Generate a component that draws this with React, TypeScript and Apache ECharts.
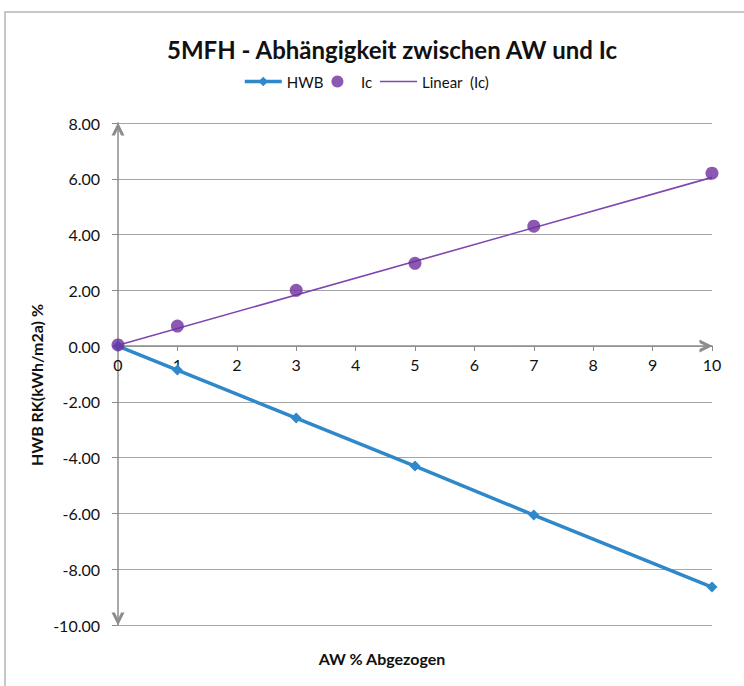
import React, { useEffect, useRef } from "react";
import * as echarts from "echarts";

const xValues = [0, 1, 3, 5, 7, 10];
const hwbValues = [0, -0.86, -2.58, -4.3, -6.06, -8.64];
const icValues = [0.04, 0.72, 2.0, 2.97, 4.3, 6.2];
const trendX = [0, 10];
const trendValues = [0.03, 6.05];

const FONT = "Lato, 'Open Sans', sans-serif";
const chevron = "path://M0,13 L6.5,0 L13,13 L9.6,13 L6.5,6.6 L3.4,13 Z";
const thinLine = "path://M0,0 L36,0 L36,1.6 L0,1.6 Z";

export default function App() {
  const ref = useRef<HTMLDivElement>(null);
  useEffect(() => {
    document.body.style.margin = "0";
    const chart = echarts.init(ref.current!, null, { renderer: "svg" });
    chart.setOption({
      animation: false,
      backgroundColor: "#fff",
      textStyle: { fontFamily: FONT },
      title: {
        text: "5MFH - Abhängigkeit zwischen AW und Ic",
        left: 387,
        textAlign: "center",
        top: 32,
        textStyle: { fontFamily: FONT, fontSize: 24, fontWeight: "bold", color: "#111" },
      },
      legend: {
        top: 69,
        left: 238,
        itemGap: 8,
        itemWidth: 37,
        itemHeight: 12,
        textStyle: { fontFamily: FONT, fontSize: 15, color: "#111" },
        data: [
          { name: "HWB", lineStyle: { width: 3.5 } },
          { name: "Ic" },
          { name: "Linear  (Ic)", icon: thinLine },
        ],
      },
      graphic: [
        {
          type: "rect",
          shape: { x: 5, y: 12, width: 800, height: 720 },
          style: { fill: "none", stroke: "#b5b5b5", lineWidth: 1.5 },
          silent: true,
        },
        {
          type: "text",
          x: 382,
          y: 658,
          style: {
            text: "AW % Abgezogen",
            font: `bold 16px ${FONT}`,
            fill: "#111",
            align: "center",
            verticalAlign: "middle",
          },
        },
        {
          type: "text",
          x: 36,
          y: 385,
          rotation: Math.PI / 2,
          style: {
            text: "HWB RK(kWh/m2a) %",
            font: `bold 16px ${FONT}`,
            fill: "#111",
            align: "center",
            verticalAlign: "middle",
          },
        },
      ],
      grid: { left: 118, right: 32, top: 123, bottom: 61 },
      xAxis: {
        type: "value",
        min: 0,
        max: 10,
        interval: 1,
        offset: -279,
        axisLine: {
          onZero: false,
          lineStyle: { color: "#8c8c8c", width: 1.5 },
          symbol: ["none", chevron],
          symbolSize: [13, 13],
          symbolOffset: [0, -6],
        },
        axisTick: { show: true, length: 5, lineStyle: { color: "#8c8c8c" } },
        axisLabel: { fontFamily: FONT, fontSize: 16, color: "#111", margin: 10 },
        splitLine: { show: false },
      },
      yAxis: {
        type: "value",
        min: -10,
        max: 8,
        interval: 2,
        axisLine: {
          show: true,
          onZero: false,
          lineStyle: { color: "#8c8c8c", width: 1.5 },
          symbol: [chevron, chevron],
          symbolSize: [13, 13],
          symbolOffset: [6, -6],
        },
        axisTick: { show: true, length: 6, lineStyle: { color: "#8c8c8c" } },
        axisLabel: {
          fontFamily: FONT,
          fontSize: 16,
          color: "#111",
          margin: 18,
          formatter: (v: number) => v.toFixed(2),
        },
        splitLine: { show: true, lineStyle: { color: "#a6a6a6", width: 1.2 } },
      },
      series: [
        {
          name: "HWB",
          type: "line",
          data: xValues.map((x, i) => [x, hwbValues[i]]),
          symbol: "diamond",
          symbolSize: 11,
          showAllSymbol: true,
          lineStyle: { color: "#2f88c9", width: 3.5 },
          itemStyle: { color: "#2f88c9" },
          z: 3,
        },
        {
          name: "Linear  (Ic)",
          type: "line",
          data: trendX.map((x, i) => [x, trendValues[i]]),
          symbol: "none",
          lineStyle: { color: "#7d46b0", width: 1.6 },
          itemStyle: { color: "#7d46b0" },
          z: 2,
        },
        {
          name: "Ic",
          type: "scatter",
          data: xValues.map((x, i) => [x, icValues[i]]),
          symbol: "circle",
          symbolSize: 13,
          itemStyle: { color: "#6f2f9f" },
          z: 4,
        },
      ],
    });
    return () => chart.dispose();
  }, []);
  return <div ref={ref} style={{ width: 744, height: 686 }} />;
}
